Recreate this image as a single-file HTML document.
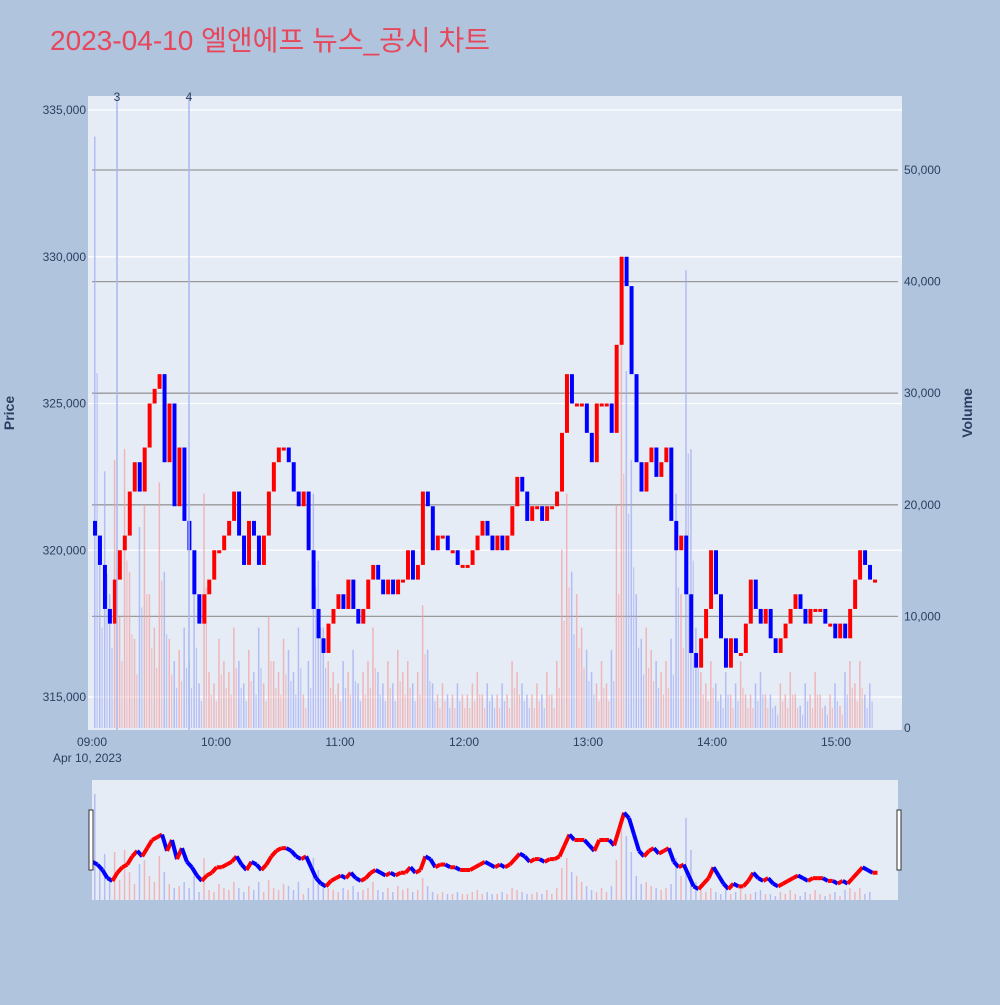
<!DOCTYPE html>
<html><head><meta charset="utf-8"><style>
body{margin:0;background:#b0c4de;font-family:"Liberation Sans","Noto Sans CJK KR",sans-serif}
svg text{font-family:"Liberation Sans","Noto Sans CJK KR",sans-serif}
</style></head><body>
<svg id="c" width="1000" height="1000" xmlns="http://www.w3.org/2000/svg">
<rect width="1000" height="1000" fill="#b0c4de"/>
<text x="50" y="50" font-size="28" fill="#e8465a" textLength="440">2023-04-10 엘앤에프 뉴스_공시 차트</text>
<rect x="88" y="96" width="814" height="634" fill="#e5ecf6"/>
<rect x="92" y="780" width="806" height="120" fill="#e5ecf6"/>
<g id="grid"></g><g id="vol"></g><g id="cand"></g><g id="axes"></g><g id="slider"></g>
<text x="14" y="413" font-size="14" font-weight="bold" fill="#2a3f5f" transform="rotate(-90 14 413)" text-anchor="middle">Price</text>
<text x="972" y="413" font-size="14" font-weight="bold" fill="#2a3f5f" transform="rotate(-90 972 413)" text-anchor="middle">Volume</text>
<text x="53" y="762" font-size="12" fill="#2a3f5f">Apr 10, 2023</text>
<rect x="89" y="810" width="4" height="60" fill="#fff" stroke="#333"/>
<rect x="897" y="810" width="4" height="60" fill="#fff" stroke="#333"/>
</svg>
<script>
const closes=[320500,319500,318000,317500,319000,320000,320500,322000,323000,322000,323500,325000,325500,326000,323000,325000,321500,323500,321000,320000,318500,317500,318500,319000,320000,320000,320500,321000,322000,320500,319500,321000,320500,319500,320500,322000,323000,323500,323500,323000,322000,321500,322000,320000,318000,317000,316500,317500,318000,318500,318000,319000,318000,317500,318000,319000,319500,319000,318500,319000,318500,319000,319000,320000,319000,319500,322000,321500,320000,320500,320500,320000,320000,319500,319500,319500,320000,320500,321000,320500,320000,320500,320000,320500,321500,322500,322000,321000,321500,321500,321000,321500,321500,322000,324000,326000,325000,325000,325000,324000,323000,325000,325000,325000,324000,327000,330000,329000,326000,323000,322000,323000,323500,322500,323000,323500,321000,320000,320500,318500,316500,316000,317000,318000,320000,318500,317000,316000,317000,316500,316500,317500,319000,318000,317500,318000,317000,316500,317000,317500,318000,318500,318000,317500,318000,318000,318000,317500,317500,317000,317500,317000,318000,319000,320000,319500,319000,319000];
const volumes=[53000,15000,23000,12000,24000,10000,25000,14000,8000,18000,20000,12000,9000,22000,14000,8000,6000,7000,9000,6000,12000,4000,21000,5000,4000,8000,6000,5000,9000,6000,4000,7000,5000,9000,4000,10000,6000,5000,8000,7000,5000,9000,3000,6000,21000,15000,9000,6000,5000,4000,6000,5000,7000,4000,5000,6000,9000,5000,4000,6000,4000,7000,5000,6000,4000,5000,11000,7000,4000,3000,4000,3000,3000,4000,3000,3000,4000,5000,3000,4000,3000,3000,4000,3000,6000,5000,4000,3000,3000,4000,3000,5000,3000,6000,16000,21000,14000,12000,9000,7000,5000,4000,6000,4000,7000,20000,38000,32000,24000,12000,8000,9000,7000,6000,5000,6000,8000,21000,12000,41000,25000,9000,5000,4000,6000,4000,3000,5000,3000,4000,6000,3000,3000,4000,5000,3000,3000,2000,4000,3000,5000,3000,2000,4000,3000,5000,3000,2000,3000,4000,2000,5000,6000,4000,6000,3000,4000];
const priceTicks=[315000,320000,325000,330000,335000];
const volTicks=[0,10000,20000,30000,40000,50000];
const timeLabels=["09:00","10:00","11:00","12:00","13:00","14:00","15:00"];
const openPrice=321000;
const NS="http://www.w3.org/2000/svg";
const y=p=>110+(335000-p)/5000*146.75;
const yv=v=>728-v/10000*111.6;
const n=closes.length;
const x=i=>95+i*(780/(n-1));
const xt=h=>92+h*124;
const ys=p=>900-(p-314000)/22000*120;
const yvs=v=>900-v/60000*120;
function mk(t,a,par){const e=document.createElementNS(NS,t);for(const k in a)e.setAttribute(k,a[k]);document.getElementById(par).appendChild(e);return e;}
priceTicks.forEach(p=>{
 const l=mk('line',{x1:88,x2:902,y1:y(p),y2:y(p),stroke:'#fff','stroke-width':1.2},'grid');
 
 
 const t=mk('text',{x:86,y:y(p)+4,'font-size':12,fill:'#2a3f5f','text-anchor':'end'},'axes');
 t.textContent=p.toLocaleString('en-US');
 
 
});
volTicks.forEach(v=>{
 if(v>0){const l=mk('line',{x1:92,x2:898,y1:yv(v),y2:yv(v),stroke:'#999','stroke-width':1.3},'grid');
 
 }
 const t=mk('text',{x:904,y:yv(v)+4,'font-size':12,fill:'#2a3f5f'},'axes');
 t.textContent=v.toLocaleString('en-US');
 
 
});
timeLabels.forEach((s,h)=>{
 const t=mk('text',{x:xt(h),y:746,'font-size':12,fill:'#2a3f5f','text-anchor':'middle'},'axes');
 t.textContent=s;
 
 
});
[[117,'3'],[189,'4']].forEach(([mx,lb])=>{
 const l=mk('line',{x1:mx,x2:mx,y1:96,y2:730,stroke:'#aab8ee','stroke-width':1.5},'axes');
 
 
 const t=mk('text',{x:mx,y:101,'font-size':12,fill:'#2a3f5f','text-anchor':'middle'},'axes');
 t.textContent=lb;
 
 
});
const w=780/(n-1);
for(let i=0;i<n;i++){
 const o=i?closes[i-1]:openPrice,c=closes[i],up=c>=o,col=up?'#ff0000':'#0000ff';
 const vb=mk('rect',{x:x(i)-1,y:yv(volumes[i]),width:1.5,height:728-yv(volumes[i]),fill:up?'#f4a0a0':'#a0a8f4',opacity:0.7},'vol');
 
 
 const vb2=mk('rect',{x:x(i)+1.5,y:yv(volumes[i]*0.6),width:1.2,height:728-yv(volumes[i]*0.6),fill:up?'#f4a0a0':'#a0a8f4',opacity:0.6},'vol');
 
 
 const top=y(Math.max(o,c)),bot=y(Math.min(o,c));
 const cb=mk('rect',{x:x(i)-w*0.4,y:top,width:w*0.8,height:Math.max(3,bot-top),fill:col},'cand');
 
 
 const sv=mk('rect',{x:x(i)-1,y:yvs(volumes[i]),width:1.5,height:900-yvs(volumes[i]),fill:up?'#f4a0a0':'#a0a8f4',opacity:0.7},'slider');
 
 
 const ls=mk('line',{x1:x(i)-w/2,x2:x(i)+w/2,y1:ys(o),y2:ys(c),stroke:col,'stroke-width':4},'slider');
 
 
}
</script>
</body></html>
